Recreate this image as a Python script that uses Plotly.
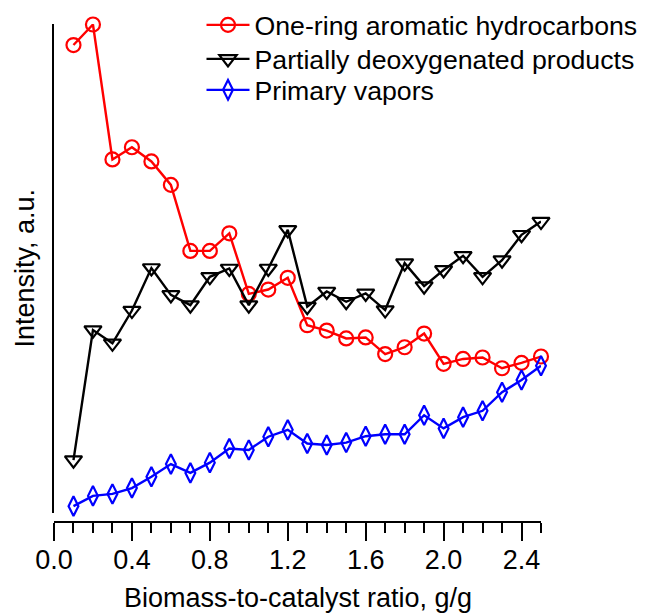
import plotly.graph_objects as go

ratio = [round(0.1 * i, 1) for i in range(1, 26)]

one_ring = [95.7, 99.9, 72.3, 74.8, 71.9, 67.1, 53.6, 53.6, 57.2, 44.8, 45.7, 48.1,
            38.4, 37.3, 35.7, 35.9, 32.5, 33.9, 36.7, 30.5, 31.5, 31.8, 29.6, 30.7, 32.0]
partial = [10.8, 37.4, 34.7, 41.4, 50.1, 44.6, 42.5, 48.3, 50.0, 42.5, 50.0, 57.9,
           42.2, 45.3, 43.2, 44.9, 41.5, 51.1, 46.4, 49.7, 52.6, 48.3, 51.7, 56.9, 59.6]
primary = [1.4, 3.5, 3.9, 5.1, 7.4, 10.0, 8.2, 10.3, 13.2, 12.9, 15.6, 17.0,
           14.2, 13.9, 14.4, 15.7, 16.1, 16.1, 20.0, 17.3, 19.6, 20.9, 24.7, 27.2, 30.1]

names = ["One-ring aromatic hydrocarbons", "Partially deoxygenated products", "Primary vapors"]
xticks = [0.0, 0.4, 0.8, 1.2, 1.6, 2.0, 2.4]
xtick_text = ["0.0", "0.4", "0.8", "1.2", "1.6", "2.0", "2.4"]

FONT = "Arial, Liberation Sans, sans-serif"
FS = 27
FS_LEG = 26.7

styles = [
    dict(color="#ff0000", symbol="circle-open", size=14),
    dict(color="#000000", symbol="triangle-down-open", size=15),
    dict(color="#0000ff", symbol="diamond-tall-open", size=14),
]
series = [one_ring, partial, primary]
legend_ids = ["legend", "legend2", "legend3"]
legend_rows_px = [25, 59, 90]

fig = go.Figure()
for name, vals, st, lg in zip(names, series, styles, legend_ids):
    fig.add_trace(go.Scatter(
        x=ratio, y=vals, name=name, mode="lines+markers", legend=lg,
        line=dict(color=st["color"], width=2.4),
        marker=dict(symbol=st["symbol"], size=st["size"], color=st["color"],
                    line=dict(width=2.2, color=st["color"])),
        cliponaxis=False))

legend_left_px = 201.5
legend_common = dict(xref="paper", yref="paper", xanchor="left", yanchor="middle",
                     bgcolor="rgba(0,0,0,0)", font=dict(size=FS_LEG, family=FONT, color="black"),
                     itemwidth=43, borderwidth=0)
legends = {}
for lg, py in zip(legend_ids, legend_rows_px):
    legends[lg] = dict(x=(legend_left_px - 54) / 487, y=(522 - py) / 498, **legend_common)

fig.update_layout(
    width=645, height=614,
    margin=dict(l=54, r=104, t=24, b=92, autoexpand=False),
    paper_bgcolor="white", plot_bgcolor="white",
    font=dict(family=FONT, size=FS, color="black"),
    showlegend=True,
    xaxis=dict(range=[0, 2.5], anchor="free", position=0,
               showline=True, linecolor="black", linewidth=1.7,
               showgrid=False, zeroline=False,
               tickmode="array", tickvals=xticks, ticktext=xtick_text,
               ticks="outside", ticklen=18, tickwidth=1.7, tickcolor="black",
               tickfont=dict(size=FS), ticklabelstandoff=-4,
               minor=dict(dtick=0.1, tick0=0, ticks="outside", ticklen=10,
                          tickwidth=1.7, tickcolor="black", showgrid=False)),
    yaxis=dict(range=[0, 100], domain=[9 / 498, 1],
               showline=True, linecolor="black", linewidth=1.7,
               showgrid=False, zeroline=False, showticklabels=False, ticks=""),
    annotations=[
        dict(text="Biomass-to-catalyst ratio, g/g", xref="paper", yref="paper",
             x=0.5, y=(522 - 598) / 498, xanchor="center", yanchor="middle",
             showarrow=False, font=dict(size=FS)),
        dict(text="Intensity, a.u.", xref="paper", yref="paper",
             x=(24 - 54) / 487, y=(522 - 268.5) / 498, xanchor="center", yanchor="middle",
             textangle=-90, showarrow=False, font=dict(size=FS)),
    ],
    **legends,
)

fig.write_html("out.html")
